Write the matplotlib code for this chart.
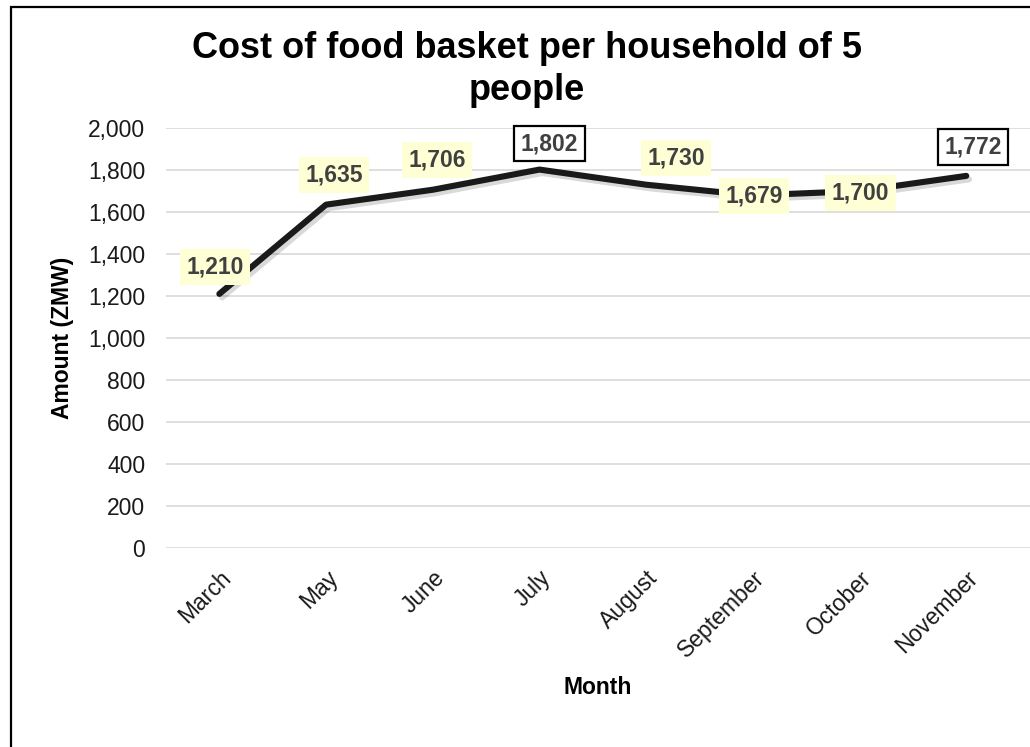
import numpy as np
import matplotlib
matplotlib.use("Agg")
import matplotlib.pyplot as plt
import matplotlib.patheffects as pe
from matplotlib.patches import Rectangle

plt.rcParams['font.family'] = ['Liberation Sans', 'DejaVu Sans']

months = ['March', 'May', 'June', 'July', 'August', 'September', 'October', 'November']
cost = [1210, 1635, 1706, 1802, 1730, 1679, 1700, 1772]
y_ticks = [0, 200, 400, 600, 800, 1000, 1200, 1400, 1600, 1800, 2000]

# label offsets in pixels (style only) and which labels get the outlined box
lab_off = [(-4, 27), (8, 30), (4, 30), (10, 26), (30, 27), (1, -1), (1, -2), (7, 29)]
boxed = [False, False, False, True, False, False, False, True]

W, H = 1030, 747
FS = 16.5
fig = plt.figure(figsize=(W / 100, H / 100), dpi=100)
fig.patch.set_facecolor('white')

# outer chart frame (right and bottom edges fall outside the picture)
fig.patches.append(Rectangle((10.5 / W, -0.1), 2.0, 1 - 7 / H + 0.1,
                             transform=fig.transFigure, fill=False,
                             edgecolor='black', lw=1.6, zorder=0))

ax = fig.add_axes([166 / W, 1 - 548 / H, (W - 166) / W, 420 / H])
x = np.arange(len(months))
ax.plot(x, cost, color='#1a1a1a', lw=4.4, solid_capstyle='round', solid_joinstyle='round',
        zorder=3,
        path_effects=[pe.SimpleLineShadow(offset=(2, -2.5), shadow_color='black', alpha=0.15),
                      pe.Normal()])

ax.set_ylim(0, 2000)
ax.set_xlim(-0.5, -0.5 + (W - 166) / 106.7)
ax.set_yticks(y_ticks)
ax.set_yticklabels([f'{v:,}' for v in y_ticks], fontsize=FS, color='#1a1a1a')
ax.set_xticks(x)
ax.set_xticklabels(months, rotation=45, ha='right', rotation_mode='anchor',
                   fontsize=FS, color='#1a1a1a')
ax.tick_params(axis='both', length=0)
ax.tick_params(axis='y', pad=15)
ax.tick_params(axis='x', pad=13)
ax.grid(axis='y', color='#d9d9d9', lw=1.2)
ax.set_axisbelow(True)
for s in ax.spines.values():
    s.set_visible(False)

for i, v in enumerate(cost):
    dx, dy = lab_off[i]
    if boxed[i]:
        bb = dict(boxstyle='square,pad=0.28', fc='white', ec='black', lw=1.6)
    else:
        bb = dict(boxstyle='square,pad=0.28', fc='#ffffd5', ec='none')
    ax.annotate(f'{v:,}', (x[i], v), xytext=(dx, dy), textcoords='offset pixels',
                ha='center', va='center', fontsize=FS, fontweight='bold',
                color='#404040', bbox=bb, zorder=5)

fig.text(527 / W, 1 - 31 / H, 'Cost of food basket per household of 5\npeople',
         ha='center', va='top', fontsize=26, fontweight='bold', linespacing=1.25)
fig.text(62 / W, 1 - 338 / H, 'Amount (ZMW)', rotation=90, ha='center', va='center',
         fontsize=FS, fontweight='bold')
fig.text(598 / W, 1 - 688 / H, 'Month', ha='center', va='center',
         fontsize=FS, fontweight='bold')

fig.savefig('out.png', dpi=100)
